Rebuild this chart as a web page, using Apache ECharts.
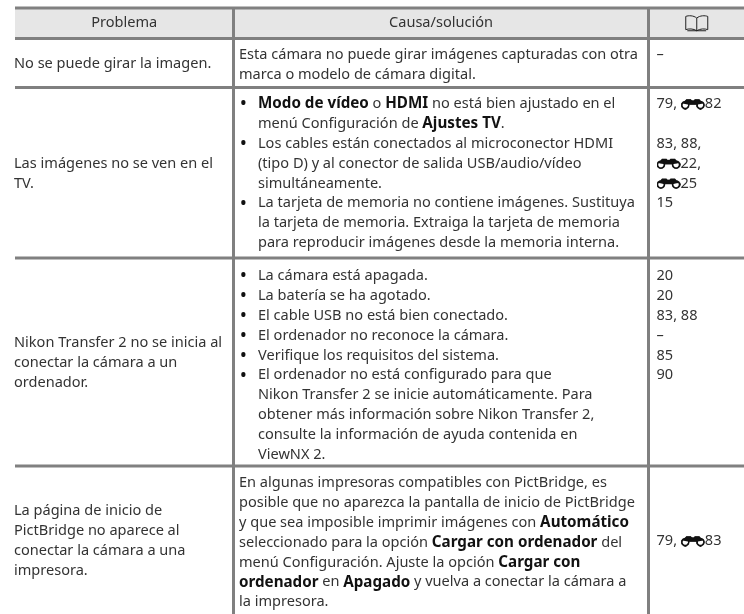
<!DOCTYPE html>
<html><head><meta charset="utf-8">
<style>html,body{margin:0;padding:0;background:#fff}#c{width:744px;height:614px}</style>
<script src="https://cdn.jsdelivr.net/npm/echarts@6/dist/echarts.min.js"></script>
</head><body><div id="c"></div>
<script>
const headers = ['Problema', 'Causa/solución'];
const problems = [
  ['No se puede girar la imagen.'],
  ['Las imágenes no se ven en el', 'TV.'],
  ['Nikon Transfer 2 no se inicia al', 'conectar la cámara a un', 'ordenador.'],
  ['La página de inicio de', 'PictBridge no aparece al', 'conectar la cámara a una', 'impresora.']
];
const causes = [
  ['Esta cámara no puede girar imágenes capturadas con otra', 'marca o modelo de cámara digital.'],
  ['• **Modo de vídeo** o **HDMI** no está bien ajustado en el', '  menú Configuración de **Ajustes TV**.',
   '• Los cables están conectados al microconector HDMI', '  (tipo D) y al conector de salida USB/audio/vídeo', '  simultáneamente.',
   '• La tarjeta de memoria no contiene imágenes. Sustituya', '  la tarjeta de memoria. Extraiga la tarjeta de memoria', '  para reproducir imágenes desde la memoria interna.'],
  ['• La cámara está apagada.', '• La batería se ha agotado.', '• El cable USB no está bien conectado.', '• El ordenador no reconoce la cámara.',
   '• Verifique los requisitos del sistema.', '• El ordenador no está configurado para que', '  Nikon Transfer 2 se inicie automáticamente. Para',
   '  obtener más información sobre Nikon Transfer 2,', '  consulte la información de ayuda contenida en', '  ViewNX 2.'],
  ['En algunas impresoras compatibles con PictBridge, es', 'posible que no aparezca la pantalla de inicio de PictBridge',
   'y que sea imposible imprimir imágenes con **Automático**', 'seleccionado para la opción **Cargar con ordenador** del',
   'menú Configuración. Ajuste la opción **Cargar con**', '**ordenador** en **Apagado** y vuelva a conectar la cámara a', 'la impresora.']
];
const refs = [
  ['–'],
  ['79, @82', '', '83, 88,', '@22,', '@25', '15'],
  ['20', '20', '83, 88', '–', '85', '90'],
  ['79, @83']
];
const rowEdges = [8, 38.5, 87.5, 258, 466, 614];
const colEdges = [15, 233.5, 648.5, 744];
const firstLine = [55, 104, 276, 483];

const FONT = '"Noto Sans"';
const SIZE = 14.55, BOLD = 15.2, LH = 19.85, INK = '#333333', RULE = '#808080';

const bino = document.createElement('canvas');
bino.width = 48; bino.height = 22;
(function(){
  const g = bino.getContext('2d'); g.scale(2,2);
  g.fillStyle = '#111'; g.strokeStyle = '#111'; g.lineWidth = 1.7;
  [[4.4,6.6],[19.6,6.6]].forEach(p=>{ g.beginPath(); g.arc(p[0],p[1],3.5,0,7); g.stroke(); });
  g.beginPath(); g.moveTo(1.5,5); g.lineTo(5.5,0.6); g.lineTo(10,.6); g.lineTo(11,1.8); g.lineTo(13,1.8); g.lineTo(14,.6); g.lineTo(18.5,.6); g.lineTo(22.5,5); g.lineTo(15,6.4); g.lineTo(9,6.4); g.closePath(); g.fill();
})();

function markup(s){
  return s.replace(/\*\*(.+?)\*\*/g,'{b|$1}').replace(/@/g,'{i|}');
}
const rich = {
  b:{fontFamily:FONT,fontSize:BOLD,fontWeight:'bold',fill:'#111',color:'#111'},
  i:{width:24,height:11,backgroundColor:{image:bino}}
};
function textEl(api,x,y,str,align){
  const c = api.coord([x,y]);
  return {type:'text',style:{x:c[0],y:c[1],text:markup(str),fontFamily:FONT,fontSize:SIZE,fill:INK,align:align||'left',verticalAlign:'middle',rich}};
}
function bullets(api,x,y,line){
  const out=[];
  let s=line;
  if(s.startsWith('• ')){ s=s.slice(2); out.push(textEl(api,x+1.5,y,'**•**')); }
  else if(s.startsWith('  ')){ s=s.slice(2); }
  else return [textEl(api,x,y,s)];
  out.push(textEl(api,x+19,y,s));
  return out;
}
function renderItem(params,api){
  const kids=[];
  const rect=(x0,y0,x1,y1,fill)=>{const a=api.coord([x0,y0]),b=api.coord([x1,y1]);kids.push({type:'rect',shape:{x:a[0],y:a[1],width:b[0]-a[0],height:b[1]-a[1]},style:{fill}});};
  const [c0,c1,c2,c3]=colEdges, R=rowEdges;
  rect(c0,R[0],c3,R[1],'#e6e6e6');
  R.slice(0,5).forEach(y=>rect(c0,y-1.5,c3,y+1.5,RULE));
  [c1,c2].forEach(x=>rect(x-1.5,R[0],x+1.5,R[5],RULE));
  const hy=(R[0]+R[1])/2;
  kids.push(textEl(api,(c0+c1)/2,hy,headers[0],'center'));
  kids.push(textEl(api,(c1+c2)/2,hy,headers[1],'center'));
  const bc=api.coord([(c2+c3)/2+0.5,hy]);
  kids.push({type:'path',shape:{pathData:'M11 3 C8 0.5 3 0.5 0.5 1.5 L0.5 13.5 C3 12.5 8 12.5 11 14.5 C14 12.5 19 12.5 21.5 13.5 L21.5 1.5 C19 0.5 14 0.5 11 3 L11 14.5 M2 14.5 L20 14.5',x:bc[0]-11,y:bc[1]-7.5,width:22,height:15,layout:'cover'},
    style:{fill:'none',stroke:'#222',lineWidth:1}});
  for(let r=0;r<4;r++){
    const top=R[r+1]+1.5, bot=R[r+2]-1.5, mid=(top+bot)/2;
    problems[r].forEach((l,i)=>{kids.push(textEl(api,c0-1,mid+1+(i-(problems[r].length-1)/2)*LH,l));});
    const y0=firstLine[r];
    causes[r].forEach((l,i)=>{kids.push(...bullets(api,c1+5.5,y0+i*LH,l));});
    refs[r].forEach((l,i)=>{ if(l) kids.push(textEl(api,c2+8,r===3?mid+1:y0+i*LH,l)); });
  }
  return {type:'group',children:kids};
}
const chart=echarts.init(document.getElementById('c'),null,{renderer:'canvas'});
chart.setOption({
  animation:false,
  grid:{left:0,right:0,top:0,bottom:0},
  xAxis:{type:'value',min:0,max:744,show:false},
  yAxis:{type:'value',min:0,max:614,inverse:true,show:false},
  series:[{type:'custom',renderItem,data:[[0,0]],silent:true,clip:false}]
});
</script></body></html>
